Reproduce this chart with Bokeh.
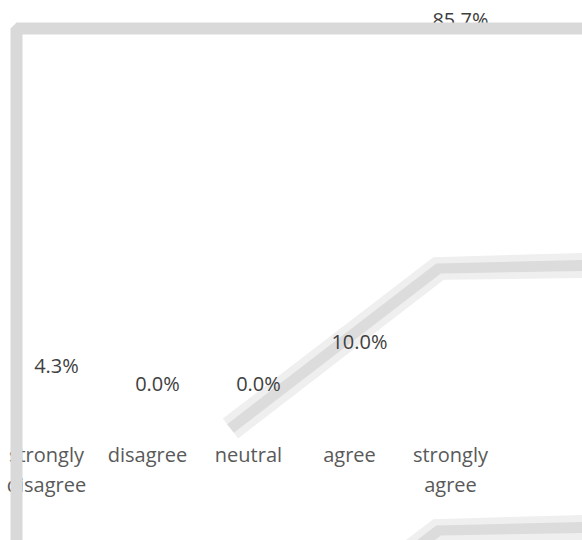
import math

from bokeh.plotting import figure
from bokeh.models import ColumnDataSource, Range1d, PolyAnnotation
from bokeh.core.properties import value
from bokeh.embed import file_html
from bokeh.resources import INLINE

# Survey response shares
categories = ["strongly\ndisagree", "disagree", "neutral", "agree", "strongly\nagree"]
shares = [4.3, 0.0, 0.0, 10.0, 85.7]
share_labels = ["4.3%", "0.0%", "0.0%", "10.0%", "85.7%"]

FONT = "Open Sans"
W, H = 582, 540

positions = list(range(len(categories)))
src = ColumnDataSource(dict(x=positions, top=shares, label=share_labels,
                            base=[0] * len(categories), cat=categories))

# The plot frame fills the whole canvas; category names are drawn below
# the zero line inside it.
p = figure(width=W, height=H, output_backend="svg", toolbar_location=None,
           x_range=Range1d(-0.455, 5.307), y_range=Range1d(-33.88, 93.18),
           min_border=0)
p.outline_line_color = None
p.background_fill_color = "white"
p.border_fill_color = "white"
p.grid.visible = False
p.axis.visible = False


def to_screen(ys):
    # screen units count upward from the bottom of the frame
    return [H - y for y in ys]


def stroke(xs, ys, width, color, level):
    # a thick polyline outlined as a polygon
    left, right = [], []
    n = len(xs)
    for i in range(n):
        j0, j1 = max(i - 1, 0), min(i + 1, n - 1)
        dx, dy = xs[j1] - xs[j0], ys[j1] - ys[j0]
        L = math.hypot(dx, dy)
        nx, ny = -dy / L * width / 2, dx / L * width / 2
        left.append((xs[i] + nx, ys[i] + ny))
        right.append((xs[i] - nx, ys[i] - ny))
    pts = left + right[::-1]
    return PolyAnnotation(xs=[q[0] for q in pts], ys=to_screen([q[1] for q in pts]),
                          xs_units="screen", ys_units="screen",
                          fill_color=color, fill_alpha=1, line_color=None,
                          level=level)


# Thick grey guide strokes running behind the labels
stroke_xs = [230, 438, 582]
stroke_ys = [428, 268, 265]
for shift in (0, 262):
    ys = [y + shift for y in stroke_ys]
    p.add_layout(stroke(stroke_xs, ys, 25, "#efefef", "underlay"))
    p.add_layout(stroke(stroke_xs, ys, 11, "#dcdcdc", "underlay"))

# Transparent bars carrying the value labels
p.vbar(x="x", top="top", width=0.6, source=src, fill_alpha=0, line_color=None)
p.text(x="x", y="top", text="label", source=src, x_offset=10, y_offset=-13,
       text_align="center", text_baseline="middle",
       text_font=value(FONT), text_font_size="20px", text_color="#404040")

# Category names under the zero line
p.text(x="x", y="base", text="cat", source=src, y_offset=44,
       text_align="center", text_baseline="top", text_line_height=1.12,
       text_font=value(FONT), text_font_size="20px", text_color="#595959")

# Rounded grey frame on the left and top edges
frame_xs = [10, 10, 16, 582, 582, 22, 22]
frame_ys = [540, 28, 22, 22, 34, 34, 540]
p.add_layout(PolyAnnotation(xs=frame_xs, ys=to_screen(frame_ys), xs_units="screen",
                            ys_units="screen", fill_color="#d9d9d9",
                            fill_alpha=1, line_color=None, level="overlay"))

open("out.html", "w").write(file_html(p, INLINE))
